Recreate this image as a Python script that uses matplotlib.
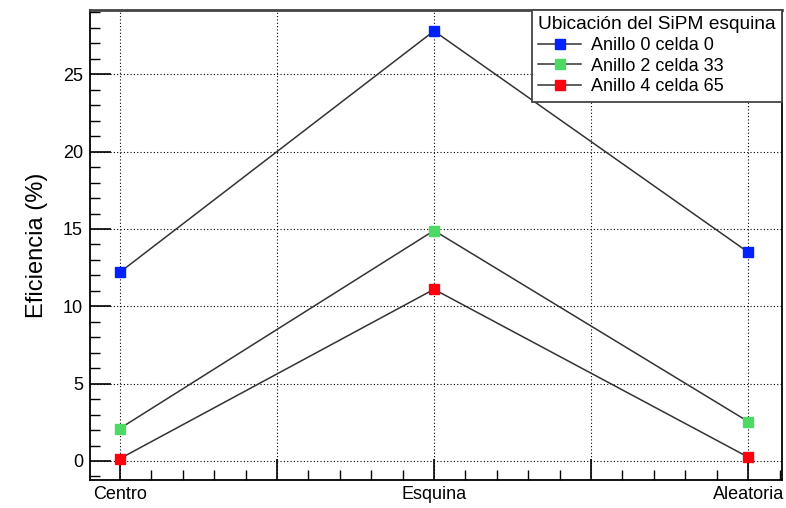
import matplotlib
matplotlib.use("Agg")
import matplotlib.pyplot as plt
from matplotlib.ticker import MultipleLocator, FixedLocator, FixedFormatter

plt.rcParams['font.family'] = ['Liberation Sans', 'DejaVu Sans']

categories = ["Centro", "Esquina", "Aleatoria"]
series_names = ["Anillo 0 celda 0", "Anillo 2 celda 33", "Anillo 4 celda 65"]
anillo0 = [12.2, 27.8, 13.5]
anillo2 = [2.1, 14.9, 2.55]
anillo4 = [0.15, 11.1, 0.25]
colors = ["#0022ff", "#4cd964", "#ff0011"]

fig = plt.figure(figsize=(7.86, 5.08), dpi=100)
ax = fig.add_axes([0.1145, 0.0551, 0.8805, 0.925])

xpos = list(range(len(categories)))
for vals, name, col in zip([anillo0, anillo2, anillo4], series_names, colors):
    ax.plot(xpos, vals, color="#333333", lw=1.1, marker="s", ms=7.5,
            mfc=col, mec=col, label=name, zorder=3)

ax.set_xlim(-0.095, 2.108)
ax.set_ylim(-1.23, 29.15)

ax.xaxis.set_major_locator(FixedLocator([0, 0.5, 1, 1.5, 2]))
ax.xaxis.set_major_formatter(FixedFormatter([categories[0], "", categories[1], "", categories[2]]))
ax.xaxis.set_minor_locator(MultipleLocator(0.1))
ax.yaxis.set_major_locator(MultipleLocator(5))
ax.yaxis.set_minor_locator(MultipleLocator(1))

ax.tick_params(axis="both", which="major", direction="in", length=15, width=1.2,
               labelsize=13, colors="black", top=False, right=False)
ax.tick_params(axis="both", which="minor", direction="in", length=7, width=1.0,
               top=False, right=False)
ax.tick_params(axis="y", which="major", pad=5)
ax.tick_params(axis="x", which="major", pad=4)

ax.grid(True, which="major", linestyle=(0, (1, 2)), color="black", lw=0.8)
for s in ax.spines.values():
    s.set_linewidth(1.3)
    s.set_color("black")
ax.spines["top"].set_color("#444444")
ax.spines["top"].set_linewidth(2)

ax.set_ylabel("Eficiencia (%)", fontsize=17, labelpad=11)

leg = ax.legend(title="Ubicación del SiPM esquina", loc="upper right",
                bbox_to_anchor=(1.0, 1.0), borderaxespad=0, fancybox=False,
                fontsize=13, title_fontsize=13.8, handlelength=2.4,
                handletextpad=0.55, labelspacing=0.2, borderpad=0.35,
                framealpha=1, edgecolor="#444444", alignment="left")
leg.get_frame().set_linewidth(1.3)

fig.savefig("out.png", dpi=100)
